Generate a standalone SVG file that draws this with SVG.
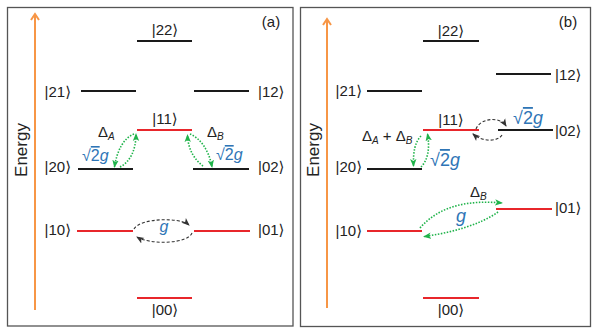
<svg xmlns="http://www.w3.org/2000/svg" width="600" height="336" viewBox="0 0 600 336">
<defs>
<style>
text{font-family:"Liberation Sans","DejaVu Sans",sans-serif;fill:#222}
.ket{font-size:15px}
.lab{font-size:15px}
.en{font-size:17px}
.blue{fill:#2e75b6}
.it{font-style:italic}
.sub{font-size:10px;font-style:italic}
.ov{text-decoration:overline}
.lvk{stroke:#1a1a1a;stroke-width:2.2}
.lvr{stroke:#e8262b;stroke-width:2.2}
.frame{fill:none;stroke:#555;stroke-width:1.3}
.axis{stroke:#f79646;stroke-width:2;fill:none}
.gd{fill:none;stroke:#1fb34a;stroke-width:1.6;stroke-dasharray:1.5 1.5;marker-end:url(#ag)}
.bd{fill:none;stroke:#333;stroke-width:1.1;stroke-dasharray:3 2;marker-end:url(#ab)}
</style>
<marker id="ag" markerUnits="userSpaceOnUse" markerWidth="8" markerHeight="8" viewBox="0 0 8 8" refX="7" refY="4" orient="auto"><path d="M0,0.8 L8,4 L0,7.2 L2,4 z" fill="#1fb34a"/></marker>
<marker id="ab" markerUnits="userSpaceOnUse" markerWidth="8" markerHeight="8" viewBox="0 0 8 8" refX="7" refY="4" orient="auto"><path d="M0,0.8 L8,4 L0,7.2 L2,4 z" fill="#333"/></marker>
</defs>

<g id="panel-a">
<rect class="frame" x="7.5" y="7.5" width="285.5" height="318.5"/>
<g id="axis-a"><line class="axis" x1="35" y1="310" x2="35" y2="14"/><polyline class="axis" points="31,20 35,14 39,20"/>
<text class="en" transform="translate(27,150) rotate(-90)" text-anchor="middle">Energy</text></g>
<text class="lab" x="271" y="27" text-anchor="middle">(a)</text>
<g id="a-22"><line class="lvk" x1="137" y1="41" x2="192" y2="41"/><text class="ket" x="165" y="35" text-anchor="middle">|22⟩</text></g>
<g id="a-21"><line class="lvk" x1="81" y1="91" x2="136" y2="91"/><text class="ket" x="71" y="97" text-anchor="end">|21⟩</text></g>
<g id="a-12"><line class="lvk" x1="194" y1="91" x2="249" y2="91"/><text class="ket" x="258" y="97">|12⟩</text></g>
<g id="a-11"><line class="lvr" x1="137" y1="130" x2="192" y2="130"/><text class="ket" x="165" y="124" text-anchor="middle">|11⟩</text></g>
<g id="a-20"><line class="lvk" x1="78" y1="169" x2="133" y2="169"/><text class="ket" x="71" y="172" text-anchor="end">|20⟩</text></g>
<g id="a-02"><line class="lvk" x1="193" y1="169" x2="249" y2="169"/><text class="ket" x="258" y="172">|02⟩</text></g>
<g id="a-10"><line class="lvr" x1="77" y1="231" x2="133" y2="231"/><text class="ket" x="71" y="235" text-anchor="end">|10⟩</text></g>
<g id="a-01"><line class="lvr" x1="194" y1="231" x2="250" y2="231"/><text class="ket" x="258" y="235">|01⟩</text></g>
<g id="a-00"><line class="lvr" x1="137" y1="298" x2="192" y2="298"/><text class="ket" x="165" y="315" text-anchor="middle">|00⟩</text></g>
<text class="lab" x="98" y="137">Δ<tspan class="sub" dy="3">A</tspan></text>
<text class="lab blue" x="82" y="161" style="font-size:16px">√<tspan class="ov">2</tspan><tspan class="it">g</tspan></text>
<text class="lab" x="207" y="137">Δ<tspan class="sub" dy="3">B</tspan></text>
<text class="lab blue" x="216" y="160" style="font-size:16px">√<tspan class="ov">2</tspan><tspan class="it">g</tspan></text>
<text class="lab blue it" x="164" y="232" text-anchor="middle" style="font-size:16px">g</text>
</g>

<g id="panel-b">
<rect class="frame" x="300.5" y="7.5" width="290" height="319"/>
<g id="axis-b"><line class="axis" x1="327" y1="308" x2="327" y2="19"/><polyline class="axis" points="323,25 327,19 331,25"/>
<text class="en" transform="translate(319,150) rotate(-90)" text-anchor="middle">Energy</text></g>
<text class="lab" x="568" y="27" text-anchor="middle">(b)</text>
<g id="b-22"><line class="lvk" x1="423" y1="41" x2="479" y2="41"/><text class="ket" x="451" y="36" text-anchor="middle">|22⟩</text></g>
<g id="b-12"><line class="lvk" x1="496" y1="74" x2="551" y2="74"/><text class="ket" x="555" y="80">|12⟩</text></g>
<g id="b-21"><line class="lvk" x1="367" y1="91" x2="422" y2="91"/><text class="ket" x="362" y="96" text-anchor="end">|21⟩</text></g>
<g id="b-11"><line class="lvr" x1="423" y1="130" x2="479" y2="130"/><text class="ket" x="451" y="125" text-anchor="middle">|11⟩</text></g>
<g id="b-02"><line class="lvk" x1="498" y1="130" x2="553" y2="130"/><text class="ket" x="555" y="136">|02⟩</text></g>
<g id="b-20"><line class="lvk" x1="367" y1="169" x2="422" y2="169"/><text class="ket" x="362" y="172" text-anchor="end">|20⟩</text></g>
<g id="b-10"><line class="lvr" x1="367" y1="231" x2="422" y2="231"/><text class="ket" x="362" y="236" text-anchor="end">|10⟩</text></g>
<g id="b-01"><line class="lvr" x1="496" y1="209" x2="552" y2="209"/><text class="ket" x="555" y="213">|01⟩</text></g>
<g id="b-00"><line class="lvr" x1="423" y1="298" x2="479" y2="298"/><text class="ket" x="451" y="315" text-anchor="middle">|00⟩</text></g>
<text class="lab" x="362" y="141">Δ<tspan class="sub" dy="3">A</tspan><tspan dy="-3"> + Δ</tspan><tspan class="sub" dy="3">B</tspan></text>
<text class="blue" style="font-size:18px" x="430" y="166">√<tspan class="ov">2</tspan><tspan class="it">g</tspan></text>
<text class="blue" style="font-size:18px" x="513" y="124">√<tspan class="ov">2</tspan><tspan class="it">g</tspan></text>
<text class="lab" x="470" y="197">Δ<tspan class="sub" dy="3">B</tspan></text>
<text class="blue it" style="font-size:18px" x="461" y="222" text-anchor="middle">g</text>
</g>

<g id="connectors">
<path class="gd" d="M134,134 C124,138 117,150 114.5,167"/>
<path class="gd" d="M120,167 C130,162 136,150 136,134"/>
<path class="gd" d="M203,166 C195,160 188,150 187.5,135"/>
<path class="gd" d="M190,134 C200,138 209,150 212,167"/>
<path class="bd" d="M134,229 C140,218 180,217 189,225"/>
<path class="bd" d="M192,233 C188,244 150,245 137,237"/>
<path class="gd" d="M421,136 C415,142 413,152 413.5,166"/>
<path class="gd" d="M421,167 C428,160 430,148 427.5,134"/>
<path class="bd" d="M476,129 C480,118 500,116 506,126"/>
<path class="bd" d="M502,135 C498,142 482,142 473,134"/>
<path class="gd" d="M420,228 C440,205 470,200 502,203"/>
<path class="gd" d="M498,212 C480,225 450,233 424,236.5"/>
</g>
</svg>
